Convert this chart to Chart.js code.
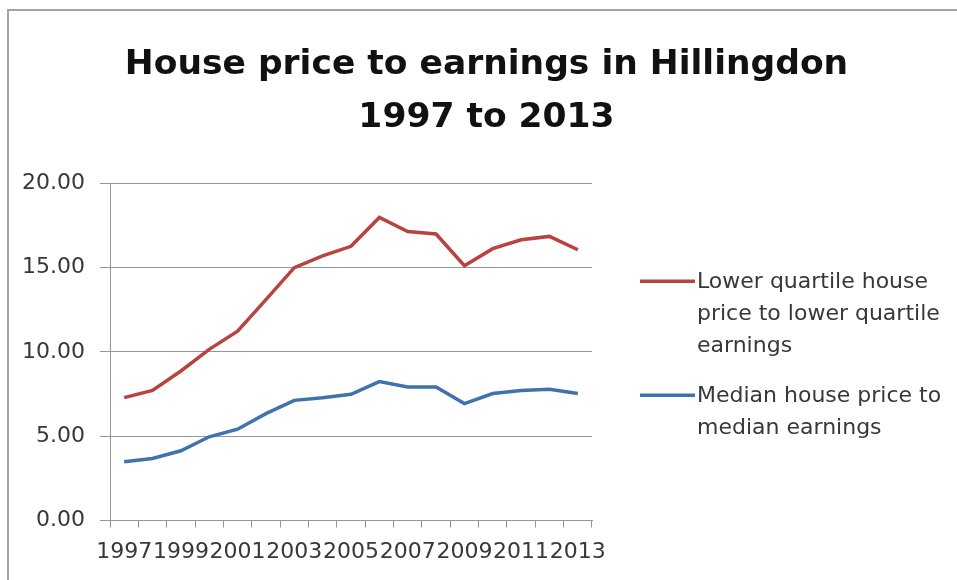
<!DOCTYPE html>
<html>
<head>
<meta charset="utf-8">
<title>House price to earnings in Hillingdon</title>
<script src="https://cdn.jsdelivr.net/npm/chart.js@4.4.1/dist/chart.umd.min.js"></script>
<style>
	html, body { margin: 0; padding: 0; background: #fff; overflow: hidden; }
	#frame { position: absolute; left: 7px; top: 9px; width: 1000px; height: 1000px; border: 2px solid #a3a3a3; }
	#wrap { position: absolute; left: 0; top: 0; width: 957px; height: 580px; }
</style>
</head>
<body>
<div id="frame"></div>
<div id="wrap"><canvas id="myChart" width="957" height="580"></canvas></div>
<script>
const years = ['1997', '1998', '1999', '2000', '2001', '2002', '2003', '2004', '2005',
	'2006', '2007', '2008', '2009', '2010', '2011', '2012', '2013'];

const lowerQuartile = [7.29, 7.72, 8.87, 10.15, 11.23, 13.10, 15.00, 15.70, 16.26,
	17.97, 17.14, 16.99, 15.11, 16.12, 16.65, 16.85, 16.06];

const median = [3.49, 3.68, 4.14, 4.97, 5.42, 6.34, 7.13, 7.29, 7.49,
	8.24, 7.92, 7.92, 6.94, 7.53, 7.72, 7.78, 7.53];

const yTicks = [0, 5, 10, 15, 20];

const titleLines = ['House price to earnings in Hillingdon', '1997 to 2013'];

const legendLines = [
	['Lower quartile house', 'price to lower quartile', 'earnings'],
	['Median house price to', 'median earnings']
];

const RED = '#b8433f';
const BLUE = '#4072ae';
const AXIS = '#959595';
const TEXT = '#383838';

Chart.defaults.font.family = '"DejaVu Sans", sans-serif';
Chart.defaults.color = TEXT;

// wrapped legend to the right of the plot, line sample before the first line of each entry
const sideLegend = {
	id: 'sideLegend',
	afterDraw(chart, args, opts) {
		const { ctx, chartArea } = chart;
		const x0 = chartArea.right + opts.gap;
		let y = chartArea.top + opts.top;
		ctx.save();
		ctx.font = opts.font;
		ctx.fillStyle = opts.color;
		ctx.textBaseline = 'alphabetic';
		ctx.textAlign = 'left';
		chart.data.datasets.forEach((ds, i) => {
			ctx.strokeStyle = ds.borderColor;
			ctx.lineWidth = ds.borderWidth;
			ctx.beginPath();
			ctx.moveTo(x0, y - 7);
			ctx.lineTo(x0 + opts.sample, y - 7);
			ctx.stroke();
			legendLines[i].forEach((line, j) => {
				ctx.fillText(line, x0 + opts.sample + 2, y + j * opts.lineHeight);
			});
			y += legendLines[i].length * opts.lineHeight + opts.itemGap;
		});
		ctx.restore();
	}
};

const ctx = document.getElementById('myChart');

new Chart(ctx, {
	type: 'line',
	data: {
		labels: years,
		datasets: [
			{
				label: legendLines[0].join(' '),
				data: lowerQuartile,
				borderColor: RED,
				backgroundColor: RED,
				borderWidth: 3.5,
				pointRadius: 0,
				tension: 0
			},
			{
				label: legendLines[1].join(' '),
				data: median,
				borderColor: BLUE,
				backgroundColor: BLUE,
				borderWidth: 3.5,
				pointRadius: 0,
				tension: 0
			}
		]
	},
	options: {
		responsive: false,
		animation: false,
		layout: { padding: { left: 16, right: 0, top: 0, bottom: 4 } },
		plugins: {
			title: {
				display: true,
				text: titleLines,
				color: '#111',
				font: { size: 34.5, weight: 'bold', lineHeight: 1.54 },
				padding: { top: 38, bottom: 39 }
			},
			legend: { display: false },
			tooltip: { enabled: false },
			sideLegend: {
				gap: 48,
				top: 105,
				sample: 55,
				lineHeight: 32,
				itemGap: 18,
				font: '22px "DejaVu Sans"',
				color: TEXT
			}
		},
		scales: {
			x: {
				offset: true,
				grid: {
					offset: true,
					drawOnChartArea: false,
					tickLength: 7,
					color: AXIS
				},
				border: { color: AXIS },
				ticks: {
					autoSkip: false,
					maxRotation: 0,
					minRotation: 0,
					padding: 11,
					font: { size: 22 },
					callback: (v, i) => i % 2 === 0 ? years[i] : ''
				}
			},
			y: {
				min: yTicks[0],
				max: yTicks[yTicks.length - 1],
				afterBuildTicks: s => { s.ticks = yTicks.map(v => ({ value: v })); },
				afterFit: s => { s.width = 94; },
				grid: { color: AXIS, tickLength: 10 },
				border: { color: AXIS },
				ticks: {
					padding: 15,
					font: { size: 22 },
					callback: v => v.toFixed(2)
				}
			},
			// blank axis on the right, reserves the room the legend is drawn in
			legendRoom: {
				type: 'linear',
				position: 'right',
				grid: { display: false },
				border: { display: false },
				ticks: { display: false },
				afterFit: s => { s.width = 365; }
			}
		}
	},
	plugins: [sideLegend]
});
</script>
</body>
</html>
